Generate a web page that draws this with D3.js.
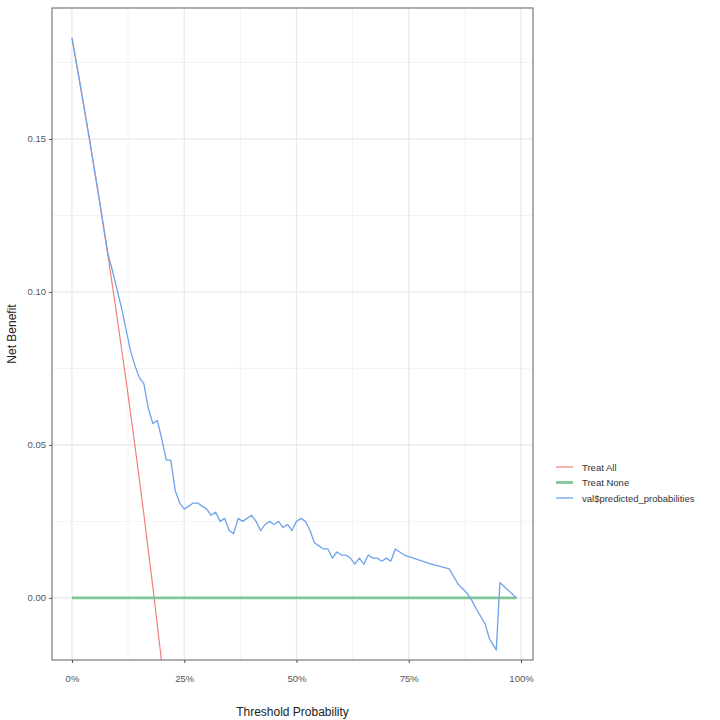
<!DOCTYPE html>
<html>
<head>
<meta charset="utf-8">
<script src="https://cdn.jsdelivr.net/npm/d3@7/dist/d3.min.js"></script>
<style>
body { margin: 0; background: #fff; }
text { font-family: 'Liberation Sans', Arial, sans-serif; }
</style>
</head>
<body>
<svg id="chart" width="720" height="720"></svg>
<script>
// series (threshold, net benefit)
var allThresholds = [0, 0.02, 0.04, 0.06, 0.08, 0.10, 0.12, 0.14, 0.16, 0.18, 0.20];
var allBenefit = [0.183, 0.1663, 0.1490, 0.1309, 0.1120, 0.0922, 0.0716, 0.0500, 0.0274, 0.0037, -0.0213];

var noneThresholds = [0, 0.99];
var noneBenefit = [0, 0];

var modelThresholds = [
  0, 0.02, 0.04, 0.06, 0.08, 0.09, 0.10, 0.11, 0.12, 0.13, 0.14, 0.15, 0.16, 0.17, 0.18, 0.19,
  0.20, 0.21, 0.22, 0.23, 0.24, 0.25, 0.26, 0.27, 0.28, 0.29, 0.30, 0.31, 0.32, 0.33, 0.34,
  0.35, 0.36, 0.37, 0.38, 0.39, 0.40, 0.41, 0.42, 0.43, 0.44, 0.45, 0.46, 0.47, 0.48, 0.49,
  0.50, 0.51, 0.52, 0.53, 0.54, 0.55, 0.56, 0.57, 0.58, 0.59, 0.60, 0.61, 0.62, 0.63, 0.64,
  0.65, 0.66, 0.67, 0.68, 0.69, 0.70, 0.71, 0.72, 0.73, 0.74, 0.76, 0.78, 0.80, 0.82, 0.84,
  0.85, 0.86, 0.87, 0.88, 0.89, 0.90, 0.91, 0.92, 0.93, 0.945, 0.953, 0.99
];
var modelBenefit = [
  0.183, 0.1663, 0.149, 0.1309, 0.1125, 0.107, 0.101, 0.095, 0.088, 0.081, 0.076, 0.072, 0.070, 0.062, 0.057, 0.058,
  0.052, 0.045, 0.045, 0.035, 0.031, 0.029, 0.030, 0.031, 0.031, 0.030, 0.029, 0.027, 0.028, 0.025, 0.026,
  0.022, 0.021, 0.026, 0.025, 0.026, 0.027, 0.025, 0.022, 0.024, 0.025, 0.024, 0.025, 0.023, 0.024, 0.022,
  0.025, 0.026, 0.025, 0.022, 0.018, 0.017, 0.016, 0.016, 0.013, 0.015, 0.014, 0.014, 0.013, 0.011, 0.013,
  0.011, 0.014, 0.013, 0.013, 0.012, 0.013, 0.012, 0.016, 0.015, 0.014, 0.013, 0.012, 0.011, 0.0103, 0.0095,
  0.007, 0.0045, 0.003, 0.0015, -0.0007, -0.0035, -0.006, -0.0085, -0.0135, -0.017, 0.005, 0
];

var seriesNames = ['Treat All', 'Treat None', 'val$predicted_probabilities'];
var seriesColors = ['#F3807A', '#7FC796', '#6EA3EC'];

var xTicks = [0, 0.25, 0.5, 0.75, 1];
var xTickLabels = ['0%', '25%', '50%', '75%', '100%'];
var yTicks = [0, 0.05, 0.10, 0.15];
var yTickLabels = ['0.00', '0.05', '0.10', '0.15'];

// layout
var margin = {top: 8, left: 52};
var width = 481;
var height = 652;

var x = d3.scaleLinear().domain([-0.0445, 1.0267]).range([0, width]);
var y = d3.scaleLinear().domain([-0.0203, 0.1928]).range([height, 0]);

var svg = d3.select('#chart');
var g = svg.append('g')
  .attr('transform', 'translate(' + margin.left + ',' + margin.top + ')');

g.append('clipPath')
  .attr('id', 'panel')
  .append('rect')
  .attr('width', width)
  .attr('height', height);

// minor grid halfway between major ticks
var xMinor = [];
for (var i = 0; i < xTicks.length - 1; i++) xMinor.push((xTicks[i] + xTicks[i + 1]) / 2);
var yStep = yTicks[1] - yTicks[0];
var yMinor = [yTicks[0] - yStep / 2];
yTicks.forEach(function(d) { yMinor.push(d + yStep / 2); });
yMinor = yMinor.filter(function(d) { return d > y.domain()[0] && d < y.domain()[1]; });

var grid = g.append('g');
grid.selectAll('line.xminor').data(xMinor).enter().append('line')
  .attr('x1', x).attr('x2', x).attr('y1', 0).attr('y2', height)
  .style('stroke', '#f3f3f3').style('stroke-width', 1);
grid.selectAll('line.yminor').data(yMinor).enter().append('line')
  .attr('x1', 0).attr('x2', width).attr('y1', y).attr('y2', y)
  .style('stroke', '#f3f3f3').style('stroke-width', 1);
grid.selectAll('line.xmajor').data(xTicks).enter().append('line')
  .attr('x1', x).attr('x2', x).attr('y1', 0).attr('y2', height)
  .style('stroke', '#e8e8e8').style('stroke-width', 1.2);
grid.selectAll('line.ymajor').data(yTicks).enter().append('line')
  .attr('x1', 0).attr('x2', width).attr('y1', y).attr('y2', y)
  .style('stroke', '#e8e8e8').style('stroke-width', 1.2);

// lines
var line = d3.line()
  .x(function(d) { return x(d[0]); })
  .y(function(d) { return y(d[1]); });

var series = [
  d3.zip(allThresholds, allBenefit),
  d3.zip(noneThresholds, noneBenefit),
  d3.zip(modelThresholds, modelBenefit)
];
var widths = [1.2, 2.8, 1.3];

var plot = g.append('g').attr('clip-path', 'url(#panel)');
series.forEach(function(s, i) {
  plot.append('path')
    .datum(s)
    .attr('d', line)
    .style('fill', 'none')
    .style('stroke', seriesColors[i])
    .style('stroke-width', widths[i])
    .style('stroke-linejoin', 'round');
});

// panel border
g.append('rect')
  .attr('width', width)
  .attr('height', height)
  .style('fill', 'none')
  .style('stroke', '#7a7a7a')
  .style('stroke-width', 1.2);

// axes
var yAxis = g.append('g')
  .call(d3.axisLeft(y).tickValues(yTicks).tickSize(3).tickPadding(3)
    .tickFormat(function(d, i) { return yTickLabels[i]; }));
var xAxis = g.append('g')
  .attr('transform', 'translate(0,' + height + ')')
  .call(d3.axisBottom(x).tickValues(xTicks).tickSize(3).tickPadding(12)
    .tickFormat(function(d, i) { return xTickLabels[i]; }));
[xAxis, yAxis].forEach(function(a) {
  a.select('.domain').remove();
  a.selectAll('line').style('stroke', '#555');
  a.selectAll('text')
    .style('font-family', "'Liberation Sans', Arial, sans-serif")
    .style('font-size', '9.5px')
    .style('fill', '#555');
});

// axis titles
svg.append('text')
  .attr('x', margin.left + width / 2)
  .attr('y', 716)
  .attr('text-anchor', 'middle')
  .style('font-size', '12px')
  .style('fill', '#222')
  .text('Threshold Probability');
svg.append('text')
  .attr('transform', 'translate(16,' + (margin.top + height / 2) + ') rotate(-90)')
  .attr('text-anchor', 'middle')
  .style('font-size', '12px')
  .style('fill', '#222')
  .text('Net Benefit');

// legend
var legend = svg.append('g').attr('transform', 'translate(556,467)');
seriesNames.forEach(function(name, i) {
  var row = legend.append('g').attr('transform', 'translate(0,' + (i * 15.5) + ')');
  row.append('line')
    .attr('x1', 0).attr('x2', 17).attr('y1', 0).attr('y2', 0)
    .style('stroke', seriesColors[i])
    .style('stroke-width', widths[i]);
  row.append('text')
    .attr('x', 26)
    .attr('y', 3.5)
    .style('font-size', '9.5px')
    .style('fill', '#333')
    .text(name);
});
</script>
</body>
</html>
